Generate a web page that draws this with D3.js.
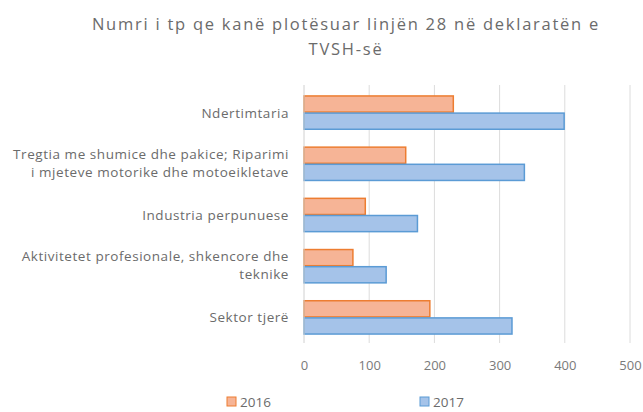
<!DOCTYPE html>
<html><head><meta charset="utf-8">
<script src="https://cdn.jsdelivr.net/npm/d3@7/dist/d3.min.js"></script>
<style>body{margin:0;background:#fff}svg{display:block}</style>
</head><body><svg id="c" width="643" height="412"></svg>
<script>
const categories = [
  ["Ndertimtaria"],
  ["Tregtia me shumice dhe pakice; Riparimi", "i mjeteve motorike dhe motoeikletave"],
  ["Industria perpunuese"],
  ["Aktivitetet profesionale, shkencore dhe", "teknike"],
  ["Sektor tjerë"]
];
const series = ["2016", "2017"];
const values2016 = [229, 156, 94, 75, 193];
const values2017 = [399, 338, 174, 126, 319];
const xTicks = [0, 100, 200, 300, 400, 500];
const titleLines = ["Numri i tp qe kanë plotësuar  linjën  28 në deklaratën  e", "TVSH-së"];

const fills = {"2016": "#f6b496", "2017": "#a5c3e9"};
const strokes = {"2016": "#ed7d31", "2017": "#5b9bd5"};
const font = "Open Sans, sans-serif";
const svg = d3.select("#c");
const m = {l: 304, r: 630, t: 87, b: 343};

const x = d3.scaleLinear().domain([0, 500]).range([m.l, m.r]);
const y = d3.scaleBand().domain(d3.range(categories.length)).range([m.t, m.b]).paddingInner(0.33).paddingOuter(0.165);
const ys = d3.scaleBand().domain(series).range([0, y.bandwidth()]);

// title
svg.append("g").selectAll("text").data(titleLines).join("text")
  .attr("x", 346).attr("y", (d, i) => 30 + i * 25)
  .attr("text-anchor", "middle").attr("font-family", font).attr("font-size", 16.5)
  .attr("letter-spacing", 1.75).attr("fill", "#6b6b6b").text(d => d);

// gridlines
svg.append("g").selectAll("line").data(xTicks.slice(1)).join("line")
  .attr("x1", d => x(d)).attr("x2", d => x(d)).attr("y1", m.t - 2).attr("y2", m.b)
  .attr("stroke", "#dcdcdc").attr("stroke-width", 1);

// axis
const ax = svg.append("g").attr("transform", `translate(0,${m.b})`)
  .call(d3.axisBottom(x).tickValues(xTicks).tickSize(0).tickPadding(18));
ax.select(".domain").remove();
ax.selectAll("text").attr("font-family", font).attr("font-size", 13).attr("fill", "#7a7a7a");

// bars
const data = [];
categories.forEach((c, i) => {
  data.push({i, s: "2016", v: values2016[i]});
  data.push({i, s: "2017", v: values2017[i]});
});
svg.append("g").selectAll("rect").data(data).join("rect")
  .attr("x", x(0)).attr("y", d => y(d.i) + ys(d.s) + 0.5)
  .attr("width", d => x(d.v) - x(0)).attr("height", ys.bandwidth() - 1)
  .attr("fill", d => fills[d.s]).attr("stroke", d => strokes[d.s]).attr("stroke-width", 1.5);

// left axis line
svg.append("line").attr("x1", x(0)).attr("x2", x(0)).attr("y1", m.t - 2).attr("y2", m.b)
  .attr("stroke", "#d0d0d0");

// category labels
const lab = svg.append("g").selectAll("text").data(categories).join("text")
  .attr("text-anchor", "end").attr("font-family", font).attr("font-size", 13.5)
  .attr("letter-spacing", 0.55).attr("fill", "#6b6b6b");
lab.each(function(lines, i) {
  const cy = y(i) + y.bandwidth() / 2;
  const n = lines.length;
  d3.select(this).selectAll("tspan").data(lines).join("tspan")
    .attr("x", 289).attr("y", (d, j) => cy + 5 + (j - (n - 1) / 2) * 18.5 - (n > 1 ? 1 : 0))
    .text(d => d);
});

// legend
const lg = svg.append("g").selectAll("g").data(series).join("g")
  .attr("transform", (d, i) => `translate(${i === 0 ? 227 : 420},397)`);
lg.append("rect").attr("width", 9).attr("height", 9).attr("y", 0)
  .attr("fill", d => fills[d]).attr("stroke", d => strokes[d]);
lg.append("text").attr("x", 13).attr("y", 9.5).attr("font-family", font).attr("font-size", 13.5)
  .attr("fill", "#6b6b6b").text(d => d);
</script></body></html>
